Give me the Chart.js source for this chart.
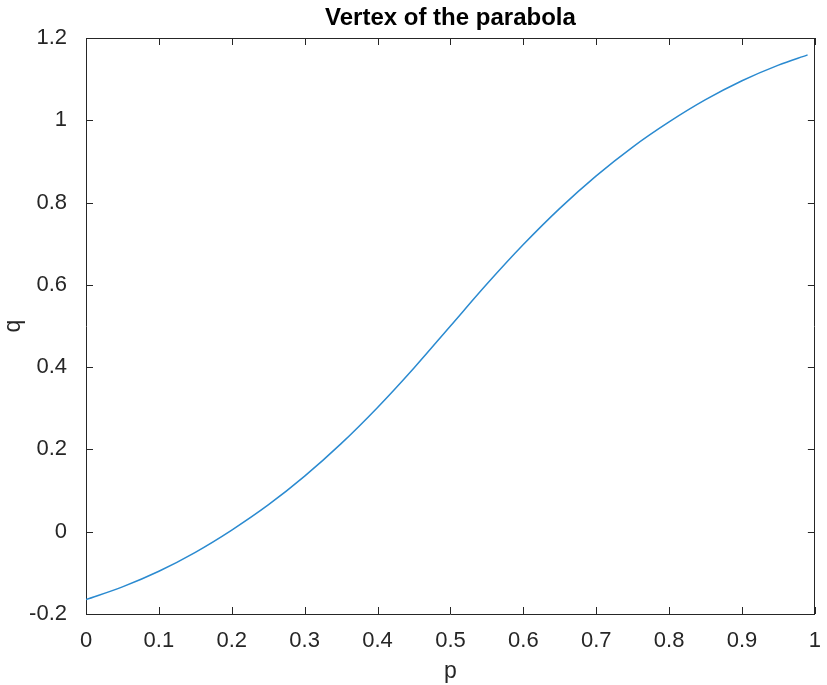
<!DOCTYPE html>
<html lang="en">
<head>
    <meta charset="UTF-8">
    <script src="https://cdn.jsdelivr.net/npm/chart.js"></script>
    <title>Vertex of the parabola</title>
    <style>
      body { margin: 0; background: #fff; }
    </style>
</head>
<body>
    <canvas id="myChart" width="827" height="685"></canvas>
    <script>
      const pValues = [0, 0.05, 0.1, 0.15, 0.2, 0.25, 0.3, 0.35, 0.4, 0.45, 0.5, 0.55, 0.6, 0.65, 0.7, 0.75, 0.8, 0.85, 0.9, 0.95, 0.99]
      const qValues = [-0.165, -0.134, -0.096, -0.050, 0.004, 0.065, 0.135, 0.214, 0.302, 0.398, 0.500, 0.602, 0.698, 0.786, 0.865, 0.935, 0.996, 1.050, 1.096, 1.134, 1.159]
      const xTicks = [0, 0.1, 0.2, 0.3, 0.4, 0.5, 0.6, 0.7, 0.8, 0.9, 1]
      const xTickLabels = ['0', '0.1', '0.2', '0.3', '0.4', '0.5', '0.6', '0.7', '0.8', '0.9', '1']
      const yTicks = [-0.2, 0, 0.2, 0.4, 0.6, 0.8, 1, 1.2]
      const yTickLabels = ['-0.2', '0', '0.2', '0.4', '0.6', '0.8', '1', '1.2']

      const axisColor = '#262626'
      const font = 'Arial, "Liberation Sans", Helvetica, sans-serif'

      // matlab style ticks pointing into the box, on all four sides
      const inwardTicks = {
        id: 'inwardTicks',
        afterDatasetsDraw(chart) {
          const c = chart.ctx
          const area = chart.chartArea
          const x = chart.scales.x
          const y = chart.scales.y
          const len = 7
          c.save()
          c.strokeStyle = axisColor
          c.lineWidth = 1
          c.beginPath()
          xTicks.forEach(v => {
            const px = Math.round(x.getPixelForValue(v)) + 0.5
            c.moveTo(px, area.bottom); c.lineTo(px, area.bottom - len)
            c.moveTo(px, area.top); c.lineTo(px, area.top + len)
          })
          yTicks.forEach(v => {
            const py = Math.round(y.getPixelForValue(v)) + 0.5
            c.moveTo(area.left, py); c.lineTo(area.left + len, py)
            c.moveTo(area.right, py); c.lineTo(area.right - len, py)
          })
          c.stroke()
          c.restore()
        }
      }

      const points = pValues.map((p, i) => ({ x: p, y: qValues[i] }))

      new Chart(document.getElementById('myChart'), {
        type: 'line',
        data: {
          datasets: [{
            data: points,
            borderColor: '#2a8ad0',
            borderWidth: 1.5,
            pointRadius: 0,
            cubicInterpolationMode: 'monotone',
            fill: false
          }]
        },
        options: {
          responsive: false,
          animation: false,
          layout: { padding: 0 },
          plugins: {
            legend: { display: false },
            tooltip: { enabled: false }
          },
          scales: {
            x: {
              type: 'linear',
              position: 'bottom',
              min: 0,
              max: 1,
              afterBuildTicks: s => { s.ticks = xTicks.map(v => ({ value: v })) },
              afterFit: s => { s.height = 71 },
              ticks: {
                autoSkip: false,
                maxRotation: 0,
                padding: 6,
                color: axisColor,
                font: { family: font, size: 22 },
                callback: (v, i) => xTickLabels[i]
              },
              grid: { display: false },
              border: { display: true, color: axisColor, width: 1 },
              title: {
                display: true,
                text: 'p',
                color: axisColor,
                font: { family: font, size: 23 },
                padding: { top: 3, bottom: 0 }
              }
            },
            xTop: {
              type: 'linear',
              position: 'top',
              min: 0,
              max: 1,
              afterFit: s => { s.height = 38 },
              ticks: { display: false },
              grid: { display: false },
              border: { display: true, color: axisColor, width: 1 },
              title: {
                display: true,
                text: 'Vertex of the parabola',
                color: '#000',
                font: { family: font, size: 24, weight: 'bold' },
                padding: { top: 4, bottom: 0 }
              }
            },
            y: {
              type: 'linear',
              position: 'left',
              min: -0.2,
              max: 1.2,
              afterBuildTicks: s => { s.ticks = yTicks.map(v => ({ value: v })) },
              afterFit: s => { s.width = 86 },
              ticks: {
                autoSkip: false,
                padding: 11,
                color: axisColor,
                font: { family: font, size: 22 },
                callback: (v, i) => yTickLabels[i]
              },
              grid: { display: false },
              border: { display: true, color: axisColor, width: 1 },
              title: {
                display: true,
                text: 'q',
                color: axisColor,
                font: { family: font, size: 23 },
                padding: { top: 0, bottom: 0 }
              }
            },
            yRight: {
              type: 'linear',
              position: 'right',
              min: -0.2,
              max: 1.2,
              afterFit: s => { s.width = 4 },
              ticks: { display: false },
              grid: { display: false },
              border: { display: true, color: axisColor, width: 1 }
            }
          }
        },
        plugins: [inwardTicks]
      })
    </script>
</body>
</html>
